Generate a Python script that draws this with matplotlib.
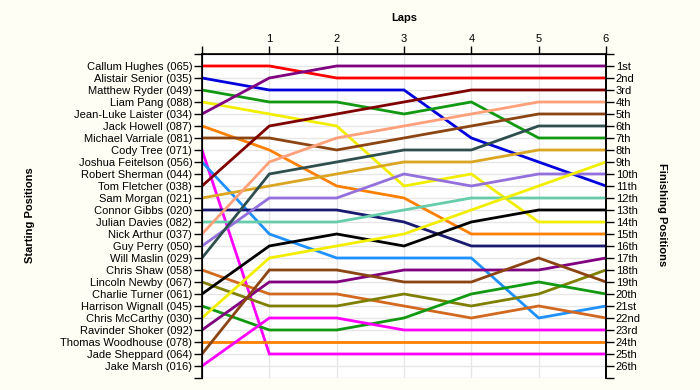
import matplotlib
matplotlib.use("Agg")
import matplotlib.pyplot as plt

# Nombres en orden de salida (posicion 1..26)
pilotos = [
    "Callum Hughes (065)", "Alistair Senior (035)", "Matthew Ryder (049)",
    "Liam Pang (088)", "Jean-Luke Laister (034)", "Jack Howell (087)",
    "Michael Varriale (081)", "Cody Tree (071)", "Joshua Feitelson (056)",
    "Robert Sherman (044)", "Tom Fletcher (038)", "Sam Morgan (021)",
    "Connor Gibbs (020)", "Julian Davies (082)", "Nick Arthur (037)",
    "Guy Perry (050)", "Will Maslin (029)", "Chris Shaw (058)",
    "Lincoln Newby (067)", "Charlie Turner (061)", "Harrison Wignall (045)",
    "Chris McCarthy (030)", "Ravinder Shoker (092)", "Thomas Woodhouse (078)",
    "Jade Sheppard (064)", "Jake Marsh (016)",
]

finales = ["1st", "2nd", "3rd"] + [f"{i}th" for i in range(4, 21)] + \
          ["21st", "22nd", "23rd", "24th", "25th", "26th"]

vueltas = [0, 1, 2, 3, 4, 5, 6]

# Posicion en cada vuelta (0..6) por piloto; Robert Sherman sin datos
posiciones = {
    "Callum Hughes (065)":     [1, 1, 2, 2, 2, 2, 2],
    "Alistair Senior (035)":   [2, 3, 3, 3, 7, 9, 11],
    "Matthew Ryder (049)":     [3, 4, 4, 5, 4, 7, 7],
    "Liam Pang (088)":         [4, 5, 6, 11, 10, 14, 14],
    "Jean-Luke Laister (034)": [5, 2, 1, 1, 1, 1, 1],
    "Jack Howell (087)":       [6, 8, 11, 12, 15, 15, 15],
    "Michael Varriale (081)":  [7, 7, 8, 7, 6, 5, 5],
    "Cody Tree (071)":         [8, 25, 25, 25, 25, 25, 25],
    "Joshua Feitelson (056)":  [9, 15, 17, 17, 17, 22, 21],
    "Tom Fletcher (038)":      [11, 6, 5, 4, 3, 3, 3],
    "Sam Morgan (021)":        [12, 11, 10, 9, 9, 8, 8],
    "Connor Gibbs (020)":      [13, 13, 13, 14, 16, 16, 16],
    "Julian Davies (082)":     [14, 14, 14, 13, 12, 12, 12],
    "Nick Arthur (037)":       [15, 9, 7, 6, 5, 4, 4],
    "Guy Perry (050)":         [16, 12, 12, 10, 11, 10, 10],
    "Will Maslin (029)":       [17, 10, 9, 8, 8, 6, 6],
    "Chris Shaw (058)":        [18, 20, 20, 21, 22, 21, 22],
    "Lincoln Newby (067)":     [19, 21, 21, 20, 21, 20, 18],
    "Charlie Turner (061)":    [20, 16, 15, 16, 14, 13, 13],
    "Harrison Wignall (045)":  [21, 23, 23, 22, 20, 19, 20],
    "Chris McCarthy (030)":    [22, 17, 16, 15, 13, 11, 9],
    "Ravinder Shoker (092)":   [23, 19, 19, 18, 18, 18, 17],
    "Thomas Woodhouse (078)":  [24, 24, 24, 24, 24, 24, 24],
    "Jade Sheppard (064)":     [25, 18, 18, 19, 19, 17, 19],
    "Jake Marsh (016)":        [26, 22, 22, 23, 23, 23, 23],
}

colores = {
    "Callum Hughes (065)": "#FF0000",
    "Alistair Senior (035)": "#0000DD",
    "Matthew Ryder (049)": "#119911",
    "Liam Pang (088)": "#F2EE00",
    "Jean-Luke Laister (034)": "#800080",
    "Jack Howell (087)": "#FF8000",
    "Michael Varriale (081)": "#8B4513",
    "Cody Tree (071)": "#FF00FF",
    "Joshua Feitelson (056)": "#1E90FF",
    "Tom Fletcher (038)": "#800000",
    "Sam Morgan (021)": "#DAA520",
    "Connor Gibbs (020)": "#191970",
    "Julian Davies (082)": "#66CDAA",
    "Nick Arthur (037)": "#FFA07A",
    "Guy Perry (050)": "#9370DB",
    "Will Maslin (029)": "#2F4F4F",
    "Chris Shaw (058)": "#D2691E",
    "Lincoln Newby (067)": "#808000",
    "Charlie Turner (061)": "#000000",
    "Harrison Wignall (045)": "#119911",
    "Chris McCarthy (030)": "#F2EE00",
    "Ravinder Shoker (092)": "#800080",
    "Thomas Woodhouse (078)": "#FF8000",
    "Jade Sheppard (064)": "#8B4513",
    "Jake Marsh (016)": "#FF00FF",
}

plt.rcParams["font.family"] = ["Liberation Sans", "DejaVu Sans"]

fig = plt.figure(figsize=(7, 3.9), dpi=100, facecolor="#FFFEF4")
ax = fig.add_axes([0.2886, 0.0308, 0.5771, 0.8308])
ax.set_facecolor("#FFFFFF")

for nombre, pos in posiciones.items():
    ax.plot(vueltas, pos, color=colores[nombre], lw=2, solid_joinstyle="miter", zorder=3)

ax.set_xlim(0, 6)
ax.set_ylim(27, 0)

ticks_y = list(range(0, 28))
ax.set_yticks(ticks_y)
ax.set_yticklabels([""] + pilotos + [""], fontsize=8)
ax.set_xticks(vueltas)
ax.set_xticklabels([""] + [str(v) for v in vueltas[1:]], fontsize=8)
ax.xaxis.tick_top()

ax.grid(True, color="#E6E6E6", lw=1, zorder=0)

ax.tick_params(axis="both", direction="out", length=6, width=1, pad=1)
for lado in ["left", "right", "top"]:
    ax.spines[lado].set_linewidth(1.2)
ax.spines["bottom"].set_visible(False)

ax2 = ax.twinx()
ax2.set_ylim(27, 0)
ax2.set_yticks(ticks_y)
ax2.set_yticklabels([""] + finales + [""], fontsize=8)
ax2.tick_params(axis="y", direction="out", length=6, width=1, pad=1)
ax2.spines["bottom"].set_visible(False)
ax2.spines["right"].set_linewidth(1.2)

fig.text(404 / 700, 1 - 18 / 390, "Laps", ha="center", va="center",
         fontsize=8, fontweight="bold")
fig.text(30 / 700, 1 - 215 / 390, "Starting Positions", ha="center", va="center",
         rotation=90, fontsize=8, fontweight="bold")
fig.text(662 / 700, 1 - 215 / 390, "Finishing Positions", ha="center", va="center",
         rotation=-90, fontsize=8, fontweight="bold")

fig.savefig("out.png", dpi=100, facecolor=fig.get_facecolor())
